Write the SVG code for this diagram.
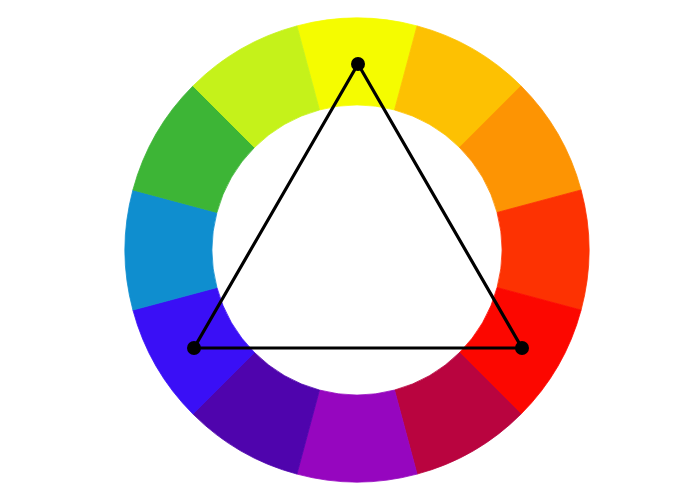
<svg xmlns="http://www.w3.org/2000/svg" width="700" height="500" viewBox="0 0 700 500">
  <style>
    .seg { stroke-width: 0.8; stroke-linejoin: round; }
    .tri { fill: none; stroke: #000; stroke-width: 3.2; stroke-linejoin: round; }
    .dot { fill: #000; }
  </style>
  <rect width="700" height="500" fill="#ffffff"/>
  <g id="wheel">
    <path id="seg-yellow" class="seg" fill="#f5fc00" stroke="#f5fc00" d="M296.95 25.91 A232 232 0 0 1 417.05 25.91 L394.53 109.94 A145 145 0 0 0 319.47 109.94 Z"/>
    <path id="seg-yellow-orange" class="seg" fill="#fdc102" stroke="#fdc102" d="M417.05 25.91 A232 232 0 0 1 521.05 85.95 L459.53 147.47 A145 145 0 0 0 394.53 109.94 Z"/>
    <path id="seg-orange" class="seg" fill="#fd9403" stroke="#fd9403" d="M521.05 85.95 A232 232 0 0 1 581.10 189.95 L497.06 212.47 A145 145 0 0 0 459.53 147.47 Z"/>
    <path id="seg-red-orange" class="seg" fill="#fd3202" stroke="#fd3202" d="M581.10 189.95 A232 232 0 0 1 581.10 310.05 L497.06 287.53 A145 145 0 0 0 497.06 212.47 Z"/>
    <path id="seg-red" class="seg" fill="#fc0700" stroke="#fc0700" d="M581.10 310.05 A232 232 0 0 1 521.05 414.05 L459.53 352.53 A145 145 0 0 0 497.06 287.53 Z"/>
    <path id="seg-red-violet" class="seg" fill="#b9043f" stroke="#b9043f" d="M521.05 414.05 A232 232 0 0 1 417.05 474.10 L394.53 390.06 A145 145 0 0 0 459.53 352.53 Z"/>
    <path id="seg-violet" class="seg" fill="#9606bf" stroke="#9606bf" d="M417.05 474.10 A232 232 0 0 1 296.95 474.10 L319.47 390.06 A145 145 0 0 0 394.53 390.06 Z"/>
    <path id="seg-blue-violet" class="seg" fill="#4f04ad" stroke="#4f04ad" d="M296.95 474.10 A232 232 0 0 1 192.95 414.05 L254.47 352.53 A145 145 0 0 0 319.47 390.06 Z"/>
    <path id="seg-blue" class="seg" fill="#3a0ff6" stroke="#3a0ff6" d="M192.95 414.05 A232 232 0 0 1 132.90 310.05 L216.94 287.53 A145 145 0 0 0 254.47 352.53 Z"/>
    <path id="seg-blue-green" class="seg" fill="#0f8ecf" stroke="#0f8ecf" d="M132.90 310.05 A232 232 0 0 1 132.90 189.95 L216.94 212.47 A145 145 0 0 0 216.94 287.53 Z"/>
    <path id="seg-green" class="seg" fill="#3db536" stroke="#3db536" d="M132.90 189.95 A232 232 0 0 1 192.95 85.95 L254.47 147.47 A145 145 0 0 0 216.94 212.47 Z"/>
    <path id="seg-yellow-green" class="seg" fill="#c5f21a" stroke="#c5f21a" d="M192.95 85.95 A232 232 0 0 1 296.95 25.91 L319.47 109.94 A145 145 0 0 0 254.47 147.47 Z"/>
  </g>
  <g id="connectors">
    <polygon class="tri" points="358,64 194,348 522,348"/>
  </g>
  <g id="vertex-top"><circle class="dot" cx="358" cy="64" r="7"/></g>
  <g id="vertex-left"><circle class="dot" cx="194" cy="348" r="7"/></g>
  <g id="vertex-right"><circle class="dot" cx="522" cy="348" r="7"/></g>
</svg>
